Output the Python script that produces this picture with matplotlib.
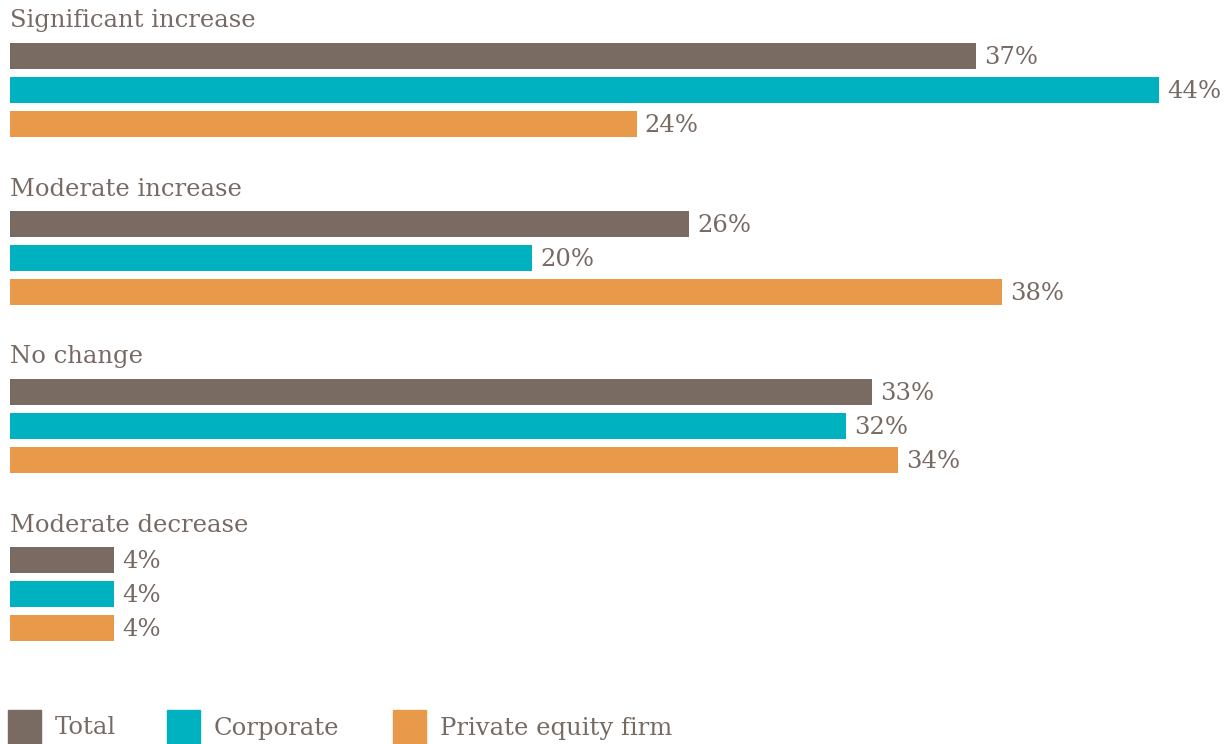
import matplotlib.pyplot as plt
from matplotlib.patches import Rectangle

categories = ['Significant increase', 'Moderate increase', 'No change', 'Moderate decrease']
series = ['Total', 'Corporate', 'Private equity firm']
total = [37, 26, 33, 4]
corporate = [44, 20, 32, 4]
private_equity = [24, 38, 34, 4]

colors = ['#796b62', '#00b2bf', '#e8994a']
txt = '#766a62'
plt.rcParams['font.family'] = ['DejaVu Serif']

W, H = 1228, 744
fig = plt.figure(figsize=(W / 100, H / 100), dpi=100)
# axes in pixel coords on y, percent on x
px_per_pct = (1159 - 10) / 44
ax = fig.add_axes([10 / W, 0, 1 - 10 / W, 1])
ax.set_xlim(0, (W - 10) / px_per_pct)
ax.set_ylim(H, 0)
ax.axis('off')

fs = 17.5
values = [total, corporate, private_equity]
group_step = 168
bar_step = 34
for g, cat in enumerate(categories):
    top = 56 + g * group_step
    ax.text(0, top - 35, cat, fontsize=fs, color=txt, va='center', ha='left')
    for s in range(3):
        y = top + s * bar_step
        v = values[s][g]
        ax.barh(y, v, height=26, color=colors[s], left=0)
        ax.text(v + 8 / px_per_pct, y + 1, f'{v}%', fontsize=fs, color=txt,
                va='center', ha='left')

# legend
leg_x = [8, 167, 393]
for i, name in enumerate(series):
    fig.patches.append(Rectangle((leg_x[i] / W, 0), 33 / W, 34 / H,
                                 transform=fig.transFigure, color=colors[i]))
    fig.text((leg_x[i] + 47) / W, 1 - 728 / H, name, fontsize=fs, color=txt,
             va='center', ha='left')

fig.savefig('out.png', dpi=100)
